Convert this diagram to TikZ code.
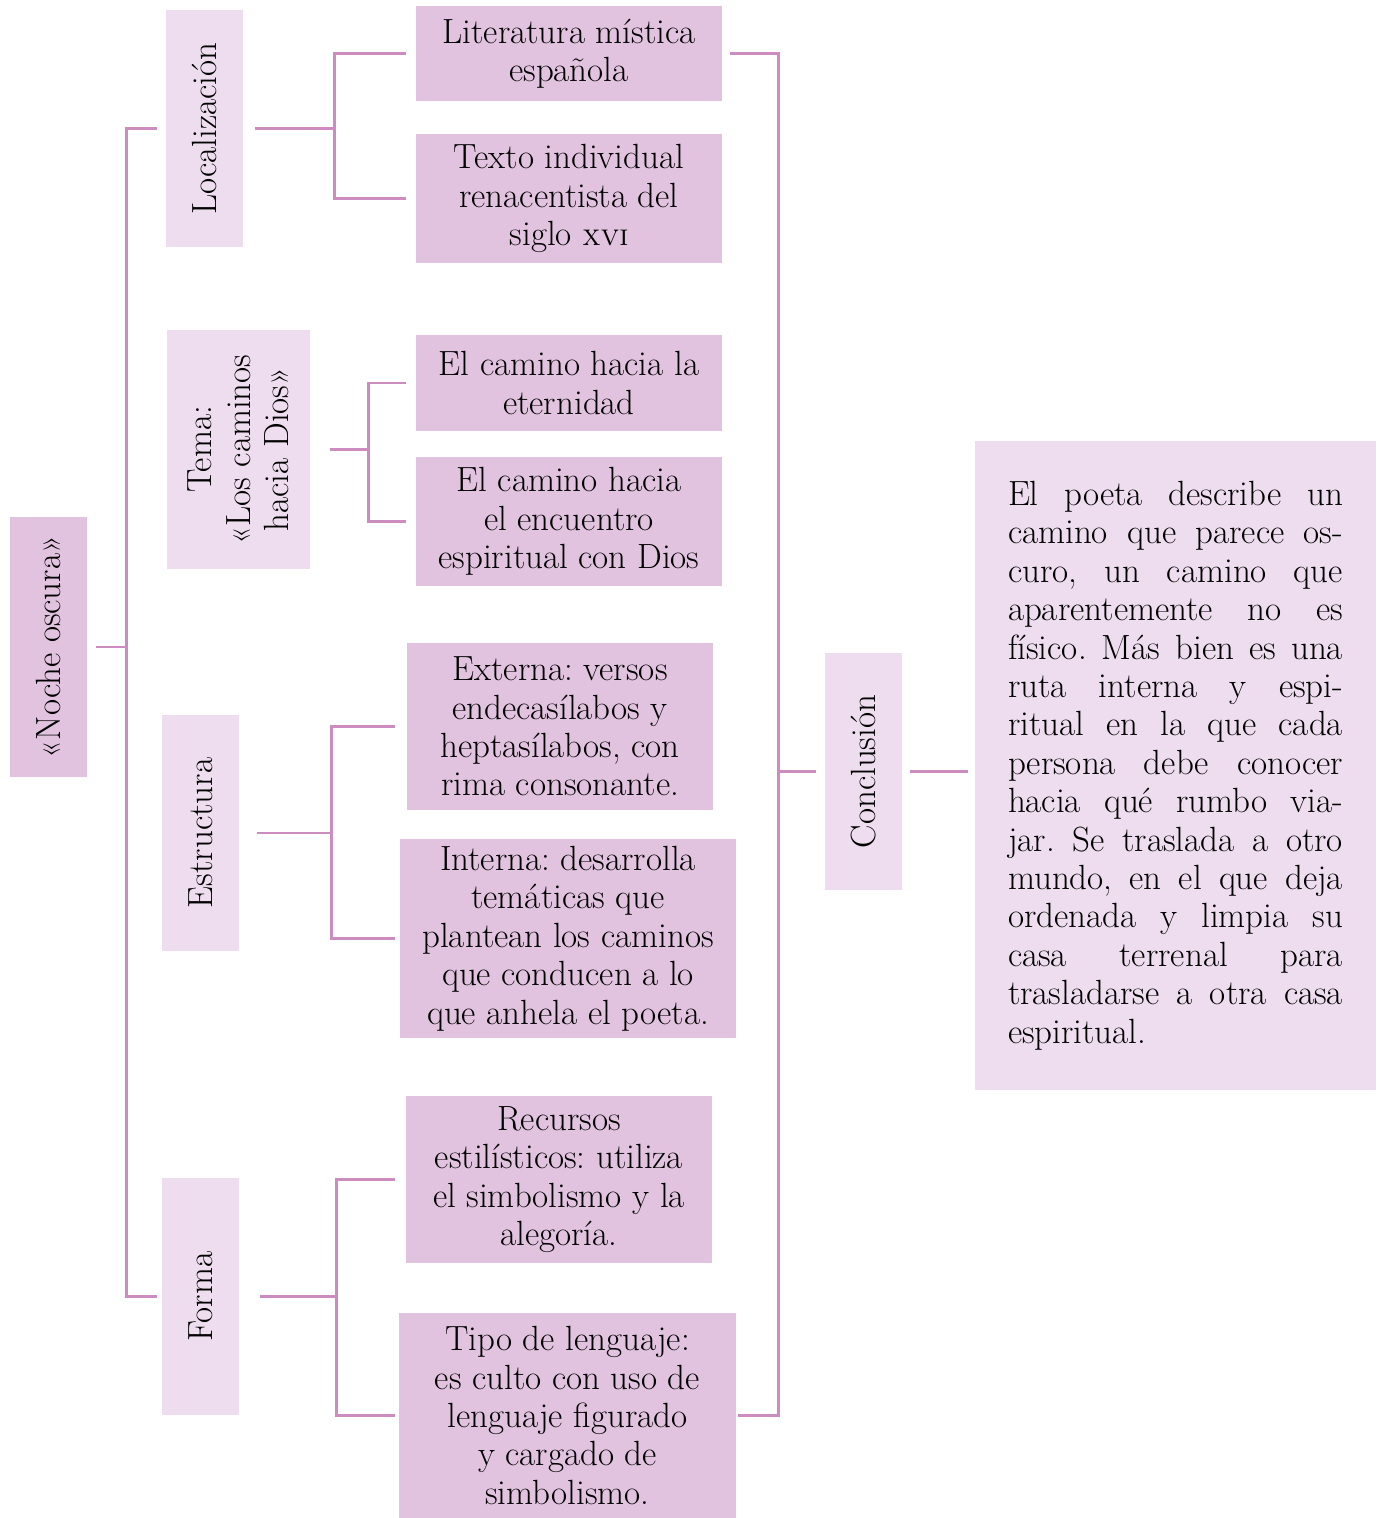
\documentclass[tikz,border=0pt]{standalone}
\usepackage{tikz}
\usetikzlibrary{calc}

\definecolor{boxdark}{HTML}{E1C3DF}
\definecolor{boxlight}{HTML}{EDDDEE}
\definecolor{linkpink}{HTML}{CC8CC0}

\begin{document}
\frenchspacing
\begin{tikzpicture}[x=0.5pt,y=-0.5pt,
        dark/.style={fill=boxdark,inner sep=0pt,align=center,font=\fontsize{17.5}{19.2}\selectfont},
        light/.style={fill=boxlight,inner sep=0pt,align=center,font=\fontsize{17.5}{19.2}\selectfont},
        link/.style={draw=linkpink,line width=1.3pt}]
                \useasboundingbox (0,0) rectangle (1379,1518);

                \node[dark,rotate=90,minimum width=130pt,minimum height=38.5pt] (noche) at (48.5,647) {«Noche oscura»};

                \node[light,rotate=90,minimum width=118.5pt,minimum height=38.5pt] (loc) at (204.5,128.5) {Localización};
                \node[light,rotate=90,minimum width=119.5pt,minimum height=71.5pt] (tema) at (238.5,449.5) {Tema:\\«Los caminos\\hacia Dios»};
                \node[light,rotate=90,minimum width=118pt,minimum height=38.5pt] (estr) at (200.5,833) {Estructura};
                \node[light,rotate=90,minimum width=118.5pt,minimum height=38.5pt] (forma) at (200.5,1296.5) {Forma};

                \node[dark,minimum width=153pt,minimum height=47.5pt] (lit) at (569,53.5) {Literatura mística\\española};
                \node[dark,minimum width=153pt,minimum height=64.5pt] (txt) at (569,198.5) {Texto individual\\renacentista del\\siglo {\fontsize{15}{19.2}\selectfont\textsc{xvi}}};
                \node[dark,minimum width=153pt,minimum height=48pt] (eter) at (569,383) {El camino hacia la\\eternidad};
                \node[dark,minimum width=153pt,minimum height=64.5pt] (encu) at (569,521.5) {El camino hacia\\el encuentro\\espiritual con Dios};
                \node[dark,minimum width=153pt,minimum height=83.5pt] (ext) at (560,726.5) {Externa: versos\\endecasílabos y\\heptasílabos, con\\rima consonante.};
                \node[dark,minimum width=168pt,minimum height=99.5pt] (int) at (568,938.5) {Interna: desarrolla\\temáticas que\\plantean los caminos\\que conducen a lo\\que anhela el poeta.};
                \node[dark,minimum width=153pt,minimum height=83.5pt] (rec) at (559,1179.5) {Recursos\\estilísticos: utiliza\\el simbolismo y la\\alegoría.};
                \node[dark,minimum width=168.5pt,minimum height=102.5pt] (tipo) at (567.5,1415.5) {Tipo de lenguaje:\\es culto con uso de\\lenguaje figurado\\y cargado de\\simbolismo.};

                \node[light,rotate=90,minimum width=118.5pt,minimum height=38.5pt] (concl) at (863.5,771.5) {Conclusión};

                \node[light,minimum width=200.5pt,minimum height=324.5pt] (para) at (1175.5,765.5) {%
                    \parbox{167.5pt}{\fontsize{17.5}{19.2}\selectfont\hyphenpenalty=10000
                    El poeta describe un\linebreak
                    camino que parece os-\linebreak
                    curo, un camino que\linebreak
                    aparentemente no es\linebreak
                    físico. Más bien es una\linebreak
                    ruta interna y espi-\linebreak
                    ritual en la que cada\linebreak
                    persona debe conocer\linebreak
                    hacia qué rumbo via-\linebreak
                    jar. Se traslada a otro\linebreak
                    mundo, en el que deja\linebreak
                    ordenada y limpia su\linebreak
                    casa terrenal para\linebreak
                    trasladarse a otra casa\linebreak
                    espiritual.}};

                \draw[link] ([xshift=-4.5pt]loc.north) -- ++(-15pt,0) coordinate (b0) |- ([xshift=-2.5pt]forma.north);
                \draw[link] ([xshift=4.5pt]noche.south) -- ++(15.5pt,0);

                \draw[link] ([xshift=6pt]loc.south) -- ++(39.5pt,0) coordinate (b1);
                \draw[link] ([xshift=-5pt]lit.west) -| (b1) |- ([xshift=-5pt]txt.west);

                \draw[link] ([xshift=10pt]tema.south) -- ++(19pt,0) coordinate (b2);
                \draw[link] ([xshift=-5pt]eter.west) -| (b2) |- ([xshift=-5pt]encu.west);

                \draw[link] ([xshift=9pt]estr.south) -- ++(37pt,0) coordinate (b3);
                \draw[link] ([xshift=-6pt]ext.west) -| (b3) |- ([xshift=-2.5pt]int.west);

                \draw[link] ([xshift=10.5pt]forma.south) -- ++(38pt,0) coordinate (b4);
                \draw[link] ([xshift=-5.5pt]rec.west) -| (b4) |- ([xshift=-2pt]tipo.west);

                \coordinate (b5) at ([xshift=-23pt]concl.north);
                \draw[link] ([xshift=4pt]lit.east) -| (b5) |- ([xshift=1pt]tipo.east);
                \draw[link] (b5) -- ([xshift=-4.5pt]concl.north);

                \draw[link] ([xshift=4pt]concl.south) -- ([xshift=-3.5pt]concl.south -| para.west);
\end{tikzpicture}
\end{document}
